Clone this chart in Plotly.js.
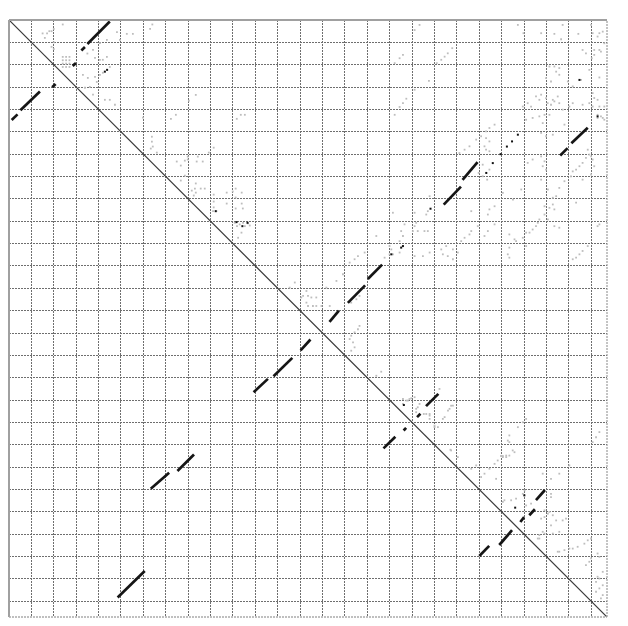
<!DOCTYPE html>
<html>
<head>
<meta charset="utf-8">
<script src="https://cdn.plot.ly/plotly-3.0.1.min.js"></script>
<style>html,body{margin:0;padding:0;background:#fff;}#chart{width:628px;height:626px;}</style>
</head>
<body>
<div id="chart"></div>
<script>
// Sequence length (both axes) and grid step
const seqLength = 267;
const gridStep = 10;

// Strong matches (black segments): start/end positions
const segStartX = [32.3, 35.0, 28.4, 19.3, 1.2, 5.1, 246.1, 251.1, 194.1, 202.5, 151.3, 160.2, 143.1, 130.2, 109.2, 118.1, 167.2, 176.2, 182.2, 186.2, 63.3, 75.2, 48.5, 210.0, 218.9, 228.3, 232.3, 235.3];
const segStartY = [13.6, 10.7, 20.5, 30.1, 44.7, 40.4, 60.6, 55.1, 82.6, 71.5, 126.5, 115.8, 135.0, 147.8, 166.5, 159.3, 191.6, 183.6, 177.6, 172.7, 209.6, 201.7, 258.3, 239.7, 234.8, 224.5, 221.5, 214.7];
const segEndX   = [33.9, 45.0, 29.9, 20.8, 3.8, 13.8, 249.4, 258.4, 201.8, 209.2, 159.0, 166.6, 147.3, 134.6, 115.6, 126.5, 172.5, 177.3, 183.7, 191.7, 71.5, 82.6, 60.6, 214.4, 224.6, 230.0, 234.8, 239.3];
const segEndY   = [12.1, 0.7, 19.3, 28.6, 42.2, 32.0, 57.3, 48.2, 74.5, 63.6, 118.7, 109.4, 130.0, 142.9, 160.5, 151.1, 186.4, 182.4, 176.1, 167.2, 202.5, 194.3, 246.4, 235.2, 228.2, 222.3, 218.8, 210.2];

// Medium matches (small black dots)
const dotX = [42.8, 43.8, 188.2, 175.1, 175.9, 170.7, 92.3, 101.6, 106.5, 104.2, 176.3, 226.0, 230.1, 254.7, 262.8, 213.1, 216.0, 219.5, 222.3, 224.6, 227.2];
const dotY = [23.1, 22.3, 84.4, 101.8, 101.1, 104.8, 85.5, 90.4, 90.7, 92.2, 172.2, 218.1, 212.6, 26.8, 43.1, 68.4, 64.0, 60.0, 56.6, 54.3, 51.3];

// Weak matches (grey dots)
const greyX = [24,20,15,16,17,18,19,64,63,20,19,20,
 24,25.5,27,24,25.5,27,24,25.5,27,24,25.5,27,
 35,37.5,40.6,43.7,48.2,49.5,52.6,55.3,38.4,40.6,41.9,43.7,33.0,35.2,38.4,39.2,40.6,41.9,45.0,33.9,36.1,37.5,42.8,45.0,47.3,59.8,63.8,64.2,66.0,
 83.4,80.3,74.5,72.3,103.5,105.3,101.7,63.8,63.3,91.4,89.2,74.9,78.5,79.8,79.8,84.3,83.8,86.5,76.7,78.5,76.7,83.4,81.6,83.0,85.6,87.4,83.4,82.5,91.4,97.2,99.9,101.2,103.9,91.4,97.2,101.2,103.9,91.4,101.2,104.4,
 91.1,92.6,100.8,103.0,104.5,105.3,106.7,107.5,101.8,103.8,102.3,171.4,164.0,175.1,175.9,174.4,169.9,170.7,169.9,167.7,174.4,171.4,158.8,155.8,154.3,152.1,149.1,146.2,141.7,127.6,125.3,132.8,131.3,130.5,133.5,135.0,137.2,132.8,135.7,137.2,139.5,143.2,133.5,156.5,155.1,152.8,156.5,155.8,154.3,152.8,152.1,153.6,154.3,152.8,166.2,164.0,175.9,178.1,
 181.1,186.3,187.0,181.8,181.1,180.3,182.5,185.5,187.0,176.6,181.1,184.8,187.8,193.0,195.2,193.7,195.9,198.2,198.2,200.4,201.9,203.4,205.6,206.4,209.3,206.4,213.8,214.5,216.8,212.3,213.8,216.8,223.4,225.7,223.4,222.7,223.4,226.4,229.4,230.9,232.4,233.8,235.3,236.1,236.8,239.1,239.1,241.3,242.8,243.5,240.6,245.7,243.5,230.9,256.1,254.7,253.2,251.7,258.4,263.6,262.8,
 177.4,178.8,182.5,196.7,198.2,193.7,190.0,186.3,187.8,187.8,230.9,227.2,223.4,222.7,225.7,223.4,220.5,222.0,197.4,263.6,262.1,260.6,
 179.6,175.9,181.8,181.8,181.1,183.3,185.2,187.8,190.0,191.5,194.5,196.0,197.4,192.2,197.1,200.4,206.4,208.6,210.8,212.3,214.5,216.8,218.2,219.7,220.5,222.0,223.4,224.9,229.4,217.5,220.5,221.2,224.2,226.4,229.4,230.2,230.9,233.1,238.3,242.0,242.0,242.0,240.6,239.1,237.6,242.8,238.3,236.8,236.1,242.0,242.8,245.0,
 245.7,248.0,250.2,251.7,253.9,256.9,258.4,259.9,262.8,263.6,259.9,259.1,257.6,265.1,263.6,262.1,265.1,263.6,262.1,265.1,264.3,262.8,245.7,250.2,239.1,241.3,244.3,247.2,248.7,236.8,239.1,245.7,
 240.5,242.0,243.5,245.7,241.3,238.3,248.0,256.1,260.6,263.6,264.3,265.8,262.8,237.6,239.8,242.8,237.6,239.1,239.8,237.6,240.6,258.4,259.1,259.9,260.6,257.6,256.1,254.7,253.2,251.7,250.9,256.1,259.9,261.3,248.0,245.7,244.3,242.8,
 183.3,181.1,175.9,174.4,172.2,191.0,193.0,194.5,195.9,197.9,187.5,181.1,177.4,175.9,174.4,172.2,227.2,229.7,237.6,243.5,246.5,247.2,254.2,256.1,257.6,259.9,260.6,262.8,263.6,265.1,265.8,261.3,263.6,264.3,261.3,260.2,241.3,243.5,244.3,245.7,239.8,242.0,245.7,249.5,251.7,255.4,259.1,263.6,260.6,261.3,259.1,262.8,265.8,262.8,265.1,229.4,231.6,233.1,235.3,237.6,236.8,239.8,242.8,245.0,247.2,250.2,251.7,230.9,233.8,236.8,239.1,216.8,214.5,213.0,210.8,208.6,205.6,203.4,201.1,213.0,214.5,212.3,214.5,213.0,214.5,211.5,213.5,209.7,211.5,187.8,220.5,225.0,228.7,231.6,233.8,238.3,253.2];
const greyY = [2,4,6,8,6,5,5,2,4,10,12,13,
 16.5,16.5,16.5,18,18,18,19.5,19.5,19.5,21,21,21,
 15,13.4,10.3,8.9,5.4,8.9,6.2,6.2,16.9,17.8,17.8,16.5,24.5,25.9,25.4,27.7,24.5,23.6,21.0,30.3,29.9,33.4,35.7,35.7,37.9,43.7,52.2,56.6,59.3,
 33.5,36.1,42.4,44.2,42.4,42.4,44.2,54.4,57.5,57.1,59.3,63.3,62.9,62.4,61.1,61.1,63.3,63.3,65.1,69.6,71.8,73.1,76.3,75.4,75.4,75.4,77.2,78.5,78.1,77.2,76.7,75.4,77.2,81.2,82.1,79.4,82.1,83.8,84.3,84.3,
 85.5,85.5,90.7,91.4,90.7,92.2,91.0,91.9,92.2,95.1,97.4,86.2,96.6,94.4,96.6,98.9,101.1,102.6,104.8,106.3,104.0,104.8,104.0,105.6,107.0,108.5,113.7,116.7,119.7,117.4,119.7,121.2,123.4,124.1,123.4,124.1,124.1,126.4,127.9,127.9,127.9,127.9,127.9,123.4,124.9,126.4,136.8,138.3,139.7,141.2,142.7,144.2,146.4,147.9,157.3,159.1,169.5,170.2,
 86.2,87.0,85.5,90.7,92.2,94.4,94.4,94.4,94.4,91.4,105.6,105.6,104.0,102.6,101.1,104.8,105.6,102.6,107.0,104.0,98.9,97.4,95.9,94.4,92.2,85.5,87.0,84.7,83.3,96.6,94.4,91.4,95.9,98.1,101.8,104.8,106.3,98.9,97.4,95.1,95.1,93.7,92.2,90.7,89.2,87.0,83.3,84.0,82.5,84.7,89.2,92.9,92.2,101.1,103.3,104.8,106.3,107.0,101.1,91.4,92.2,
 170.2,169.5,173.2,173.9,172.5,178.4,182.1,176.2,176.2,178.4,178.4,182.1,185.8,188.1,193.3,194.8,195.5,195.5,192.5,184.3,186.6,188.8,
 169.2,171.7,173.9,175.4,168.7,171.7,176.2,176.9,181.4,182.1,177.6,174.7,172.5,165.0,192.2,195.5,200.7,199.2,204.4,202.9,200.7,198.5,197.0,195.0,195.0,194.8,188.8,192.5,179.9,205.2,215.5,214.8,214.8,214.1,211.9,210.4,217.1,216.3,202.9,205.2,211.9,213.4,220.8,222.3,223.0,221.5,228.9,230.4,231.9,226.0,229.7,237.8,
 237.8,237.1,236.4,236.4,235.6,234.2,232.7,231.9,238.6,240.1,240.8,242.3,243.8,246.8,249.8,251.3,252.8,254.2,255.7,257.2,258.7,249.0,202.9,199.2,219.3,220.0,223.8,223.8,223.0,231.9,229.7,228.9,
 37.2,37.9,36.4,37.2,42.4,46.1,46.8,37.9,38.7,38.7,43.1,44.6,43.8,50.5,52.0,51.3,61.0,63.2,66.9,71.4,75.8,58.0,60.2,61.0,62.4,61.7,63.9,65.4,66.9,67.7,69.9,71.4,69.1,65.4,72.1,75.1,78.8,79.5,
 2.2,4.5,15.6,17.1,19.3,19.3,17.8,16.4,14.9,12.6,27.2,31.2,35.2,37.2,38.9,42.4,2.2,5.9,5.9,6.2,8.6,2.2,6.2,13.4,14.9,2.2,5.9,7.4,5.9,5.2,10.4,13.4,13.4,14.1,15.6,17.1,20.8,20.8,23.1,21.5,26.0,27.5,24.5,27.5,29.7,26.8,22.3,25.7,32.7,34.9,37.2,35.7,38.7,42.4,43.8,38.7,37.2,38.7,34.2,33.4,35.7,34.9,35.7,34.2,40.1,38.7,37.2,44.6,43.8,43.1,42.4,46.8,48.3,49.8,52.0,53.5,56.5,58.0,59.5,52.8,54.3,56.5,58.7,58.0,66.9,64.7,71.4,68.4,69.9,78.8,77.3,80.3,75.8,63.9,62.4,65.4,81.7];

// Build segment arrays with gaps
const sx = [], sy = [];
for (let i = 0; i < segStartX.length; i++) {
  sx.push(segStartX[i], segEndX[i], null);
  sy.push(segStartY[i], segEndY[i], null);
}

const traces = [
  {
    x: [0, seqLength], y: [0, seqLength], mode: 'lines', type: 'scatter',
    line: {color: '#3a3a3a', width: 1.2}, hoverinfo: 'skip'
  },
  {
    x: greyX, y: greyY, mode: 'markers', type: 'scatter',
    marker: {symbol: 'square', size: 1.8, color: '#bdbdbd', line: {width: 0}}
  },
  {
    x: dotX, y: dotY, mode: 'markers', type: 'scatter',
    marker: {symbol: 'square', size: 2, color: '#111111', line: {width: 0}}
  },
  {
    x: sx, y: sy, mode: 'lines', type: 'scatter', connectgaps: false,
    line: {color: '#151515', width: 2.7}
  }
];

const axisCommon = {
  range: [0, seqLength],
  dtick: gridStep, tick0: 0,
  showgrid: true, gridcolor: '#6e6e6e', gridwidth: 1, griddash: '2px,1px',
  zeroline: false, showline: false, showticklabels: false, ticks: '',
  fixedrange: true
};

const layout = {
  width: 628, height: 626,
  margin: {l: 9, r: 21, t: 20, b: 9, pad: 0},
  paper_bgcolor: '#ffffff', plot_bgcolor: '#ffffff',
  showlegend: false,
  xaxis: Object.assign({}, axisCommon),
  yaxis: Object.assign({}, axisCommon, {range: [seqLength, 0]}),
  shapes: [
    {type: 'line', xref: 'paper', yref: 'paper', x0: 0, x1: 1, y0: 1, y1: 1, line: {color: '#a0a0a0', width: 2}},
    {type: 'line', xref: 'paper', yref: 'paper', x0: 0, x1: 0, y0: 0, y1: 1, line: {color: '#a0a0a0', width: 2}},
    {type: 'line', xref: 'paper', yref: 'paper', x0: 1, x1: 1, y0: 0, y1: 1, line: {color: '#888888', width: 1, dash: '2px,1px'}},
    {type: 'line', xref: 'paper', yref: 'paper', x0: 0, x1: 1, y0: 0, y1: 0, line: {color: '#aaaaaa', width: 1.5, dash: '2px,1px'}}
  ]
};

Plotly.newPlot('chart', traces, layout, {staticPlot: true, displayModeBar: false});
</script>
</body>
</html>
